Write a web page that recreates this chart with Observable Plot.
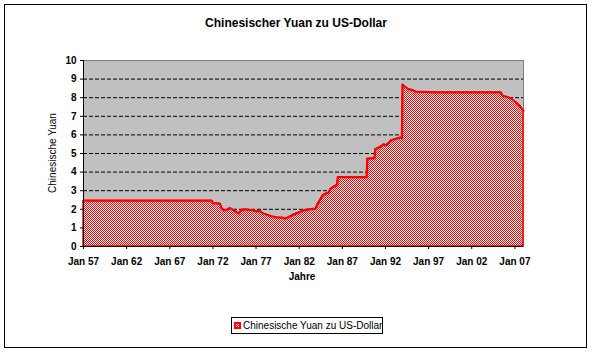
<!DOCTYPE html>
<html>
<head>
<meta charset="utf-8">
<script src="https://cdn.jsdelivr.net/npm/d3@7"></script>
<script src="https://cdn.jsdelivr.net/npm/@observablehq/plot@0.6"></script>
<style>
  body { margin: 0; background: #fff; font-family: "Liberation Sans", Arial, sans-serif; }
  #wrap { position: relative; width: 592px; height: 354px; overflow: hidden; background: #fff; }
  #chart { position: absolute; left: 0; top: 0; }
  #frame { position: absolute; left: 4px; top: 4px; width: 583px; height: 344px; box-sizing: border-box; border: 1px solid #000; pointer-events: none; }
  .lbl { position: absolute; color: #000; line-height: 10px; white-space: nowrap; }
  #title { left: 0; width: 592px; text-align: center; top: 17px; font-size: 12px; line-height: 12px; font-weight: bold; }
  #xtitle { left: 252px; width: 100px; text-align: center; top: 272px; font-size: 10px; font-weight: bold; }
  #ytitle { left: -7px; width: 120px; top: 148px; text-align: center; font-size: 10px; transform: rotate(-90deg); transform-origin: 50% 50%; }
  #legend { position: absolute; left: 231px; top: 317px; width: 152px; height: 17px; box-sizing: border-box; border: 1px solid #000; background: #fff; }
  #legend svg { position: absolute; left: 2px; top: 4px; }
  #legend span { position: absolute; left: 11px; top: 3px; font-size: 10px; line-height: 10px; white-space: nowrap; }
</style>
</head>
<body>
<div id="wrap">
  <div id="chart"></div>
  <div id="frame"></div>
  <div id="title" class="lbl">Chinesischer Yuan zu US-Dollar</div>
  <div id="xtitle" class="lbl">Jahre</div>
  <div id="ytitle" class="lbl">Chinesische Yuan</div>
  <div id="legend">
    <svg width="7" height="7"><rect x="0" y="0" width="7" height="7" fill="#ff0000"/><path d="M2,2L5,5M5,2L2,5" stroke="#fff" stroke-width="1"/></svg>
    <span>Chinesische Yuan zu US-Dollar</span>
  </div>
</div>
<script>
// ---- data ----
const months = [
  "1957-01","1971-12","1972-01","1972-11","1973-01","1973-04","1973-09","1974-01","1974-06","1974-10",
  "1975-01","1975-05","1975-08","1976-08","1977-01","1977-08","1977-10","1978-03","1978-11","1979-06",
  "1980-02","1980-05","1980-09","1981-01","1981-06","1982-01","1982-07","1983-01","1983-06","1983-12",
  "1984-03","1984-06","1984-09","1984-12","1985-06","1985-09","1986-01","1986-05","1986-06","1986-07",
  "1989-11","1989-12","1990-10","1990-11","1991-06","1991-11","1992-02","1992-07","1992-09","1993-05",
  "1993-10","1993-12","1994-01","1994-04","1994-09","1995-03","1995-07","1996-06","1997-10","2005-06",
  "2005-07","2005-10","2006-03","2006-08","2006-12","2007-04","2007-08","2007-12","2008-01"
];
const yuanPerDollar = [
  2.46, 2.46, 2.33, 2.30, 2.08, 1.94, 1.98, 2.06, 1.94, 1.85,
  1.76, 1.95, 1.99, 1.95, 1.90, 1.88, 1.78, 1.72, 1.62, 1.56,
  1.55, 1.49, 1.55, 1.62, 1.72, 1.83, 1.92, 1.98, 2.00, 2.03,
  2.30, 2.48, 2.70, 2.80, 2.89, 3.10, 3.20, 3.28, 3.30, 3.72,
  3.72, 4.72, 4.75, 5.22, 5.35, 5.49, 5.44, 5.60, 5.70, 5.80,
  5.85, 5.80, 8.70, 8.60, 8.45, 8.40, 8.32, 8.30, 8.28, 8.28,
  8.13, 8.08, 8.03, 7.95, 7.82, 7.70, 7.55, 7.35, 7.30
];
const tickYears = [1957, 1962, 1967, 1972, 1977, 1982, 1987, 1992, 1997, 2002, 2007];
const yTicks = [0, 1, 2, 3, 4, 5, 6, 7, 8, 9, 10];
const gridValues = [1, 2, 3, 4, 5, 6, 7, 8, 9];
const xDomain = ["1957-01", "2008-01"];

const parseMonth = d3.utcParse("%Y-%m");
const series = months.map((m, i) => ({ date: parseMonth(m), value: yuanPerDollar[i] }));
const tickDates = tickYears.map(y => new Date(Date.UTC(y, 0, 1)));

const svg = Plot.plot({
  width: 592,
  height: 354,
  marginLeft: 83,
  marginRight: 69,
  marginTop: 60,
  marginBottom: 108,
  style: { fontFamily: "'Liberation Sans', Arial, sans-serif", fontSize: "10px", background: "transparent", color: "#000" },
  x: { type: "utc", domain: xDomain.map(parseMonth) },
  y: { domain: [0, 10] },
  marks: [
    Plot.frame({ fill: "#c0c0c0", stroke: "#808080" }),
    Plot.ruleY(gridValues, { stroke: "#000", strokeDasharray: "4,2", strokeWidth: 1 }),
    Plot.areaY(series, { x: "date", y: "value", fill: "url(#dither)", stroke: "#ff0000", strokeWidth: 1.5 }),
    Plot.lineY(series, { x: "date", y: "value", stroke: "#ff0000", strokeWidth: 2 }),
    Plot.ruleY([0], { stroke: "#000", strokeWidth: 1 }),
    Plot.ruleX([parseMonth(xDomain[0])], { stroke: "#000", strokeWidth: 1 }),
    Plot.axisX(tickDates, {
      tickSize: 3, tickPadding: 8, fontWeight: "bold", fontSize: 10,
      tickFormat: d => "Jan " + String(d.getUTCFullYear()).slice(2), label: null
    }),
    Plot.axisY(yTicks, { tickSize: 3, tickPadding: 4, fontWeight: "bold", fontSize: 10, label: null })
  ]
});

// dithered red/white fill pattern
const ns = "http://www.w3.org/2000/svg";
const defs = document.createElementNS(ns, "defs");
defs.innerHTML = '<pattern id="dither" width="2" height="2" patternUnits="userSpaceOnUse">' +
  '<rect width="2" height="2" fill="#ffffff"/><rect x="0" y="0" width="1" height="1" fill="#ff0000"/>' +
  '<rect x="1" y="1" width="1" height="1" fill="#ff0000"/></pattern>';
svg.insertBefore(defs, svg.firstChild);
document.getElementById("chart").appendChild(svg);
</script>
</body>
</html>
